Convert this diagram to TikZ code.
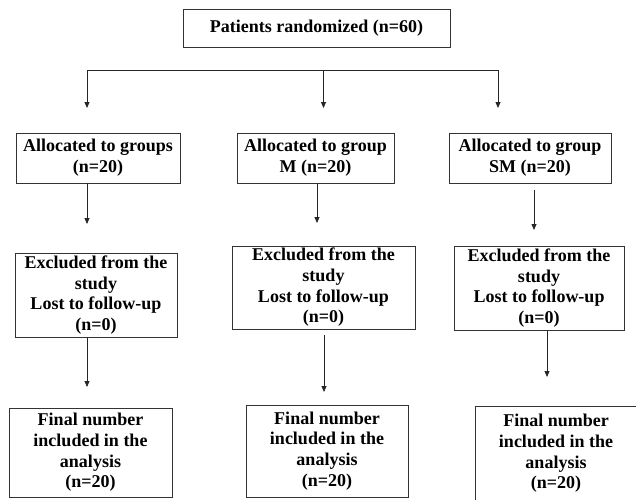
\documentclass[tikz,border=0pt]{standalone}
\usepackage{fontspec}
\setmainfont{Liberation Serif}
\usetikzlibrary{arrows.meta}
\begin{document}
\begin{tikzpicture}[x=1pt,y=-1pt,
  box/.style={draw=black!80, line width=0.8pt, rectangle, inner sep=0pt, align=center,
    font=\fontsize{18}{20.7}\selectfont\bfseries},
  arr/.style={draw=black!85, line width=0.8pt, -{Triangle[length=6pt,width=5pt]}},
  ln/.style={draw=black!85, line width=0.8pt}]
\useasboundingbox (0,0) rectangle (636,499);
% top
\node[box, minimum width=267pt, minimum height=38pt] (top) at (316.5,28) {Patients randomized (n=60)};
% row 2
\node[box, minimum width=164pt, minimum height=50pt] (A1) at (98,158) {Allocated to groups\\(n=20)};
\node[box, minimum width=157pt, minimum height=50pt] (A2) at (315.5,158) {Allocated to group\\M (n=20)};
\node[box, minimum width=162pt, minimum height=50pt] (A3) at (530,158) {Allocated to group\\SM (n=20)};
% row 3
\node[box, minimum width=162pt, minimum height=84pt] (E1) at (96,295) {Excluded from the\\study\\Lost to follow-up\\(n=0)};
\node[box, minimum width=183pt, minimum height=83pt] (E2) at (323.5,287.5) {Excluded from the\\study\\Lost to follow-up\\(n=0)};
\node[box, minimum width=170pt, minimum height=84pt] (E3) at (539,288) {Excluded from the\\study\\Lost to follow-up\\(n=0)};
% row 4
\node[box, minimum width=163pt, minimum height=89pt] (F1) at (90.5,452.5) {Final number\\included in the\\analysis\\(n=20)};
\node[box, minimum width=162pt, minimum height=92pt] (F2) at (327,451) {Final number\\included in the\\analysis\\(n=20)};
\node[box, minimum width=162pt, minimum height=95pt] (F3) at (556,453.5) {Final number\\included in the\\analysis\\(n=20)};
% distribution line
\coordinate (hl) at (87,70);
\coordinate (hm) at (323.5,70);
\coordinate (hr) at (498,70);
\draw[ln] (hl) -- (hr);
\coordinate (t1) at (87,108);
\coordinate (t2) at (323.5,108);
\coordinate (t3) at (498,108);
\draw[arr] (hl) -- (t1);
\draw[arr] (hm) -- (t2);
\draw[arr] (hr) -- (t3);
% column arrows
\coordinate (a1) at (87,224);
\coordinate (a2) at (317,223);
\coordinate (a3) at (534,230);
\draw[arr] (a1 |- A1.south) -- (a1);
\draw[arr] (a2 |- A2.south) -- (a2);
\draw[arr, shorten <=7pt] (a3 |- A3.south) -- (a3);
\coordinate (b1) at (87,387);
\coordinate (b2) at (324,392);
\coordinate (b3) at (547,377);
\draw[arr] (b1 |- E1.south) -- (b1);
\draw[arr, shorten <=6pt] (b2 |- E2.south) -- (b2);
\draw[arr] (b3 |- E3.south) -- (b3);
\end{tikzpicture}
\end{document}
